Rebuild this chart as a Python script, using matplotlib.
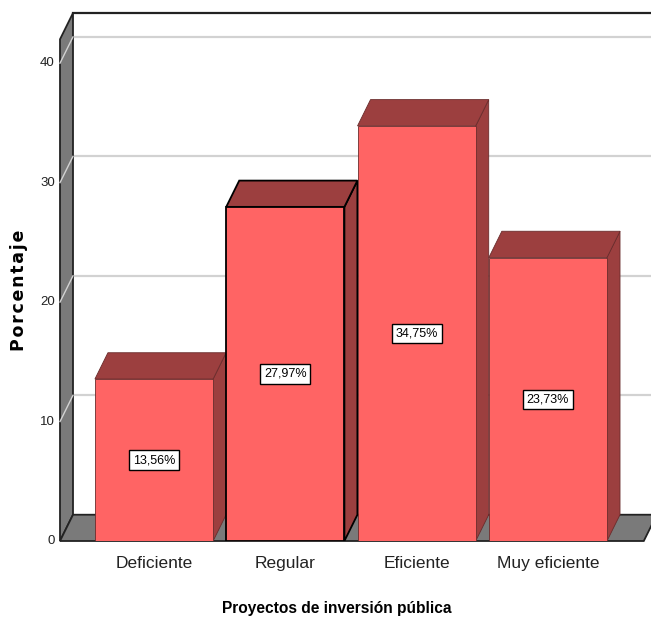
import matplotlib.pyplot as plt
from matplotlib.patches import Polygon

categories = ['Deficiente', 'Regular', 'Eficiente', 'Muy eficiente']
percentages = [13.56, 27.97, 34.75, 23.73]
y_ticks = [0, 10, 20, 30, 40]

FRONT = '#ff6464'
SHADE = '#9c3f3f'
WALL = '#7a7a7a'
GRID = '#d2d2d2'
EDGE = '#222222'

sans = ['Liberation Sans', 'DejaVu Sans']

# fake depth of the 3D box, in data units
dx = 0.099
dy = 2.2
y_top = 42.0
x_left = -0.716
x_right = 3.73
bar_w = 0.9

fig = plt.figure(figsize=(6.51, 6.24), dpi=100)
ax = fig.add_axes([60 / 651, 83 / 624, 591 / 651, 528 / 624])
ax.set_xlim(x_left, 3.785)
ax.set_ylim(0, y_top + dy)
ax.axis('off')

# back wall grid and frame
for v in y_ticks[1:]:
    ax.plot([x_left + dx, 4.2], [v + dy, v + dy], color=GRID, lw=1.6, zorder=1, clip_on=False)
ax.plot([x_left + dx, 4.2], [y_top + dy, y_top + dy], color=EDGE, lw=1.6, zorder=1, clip_on=False)

# left wall
ax.add_patch(Polygon([(x_left, 0), (x_left, y_top), (x_left + dx, y_top + dy), (x_left + dx, dy)],
                     closed=True, facecolor=WALL, edgecolor=EDGE, lw=1.3, zorder=2, clip_on=False))
for v in y_ticks[1:]:
    ax.plot([x_left, x_left + dx], [v, v + dy], color=GRID, lw=1.0, zorder=2, clip_on=False)

# floor
ax.add_patch(Polygon([(x_left, 0), (x_right, 0), (x_right + dx, dy), (x_left + dx, dy)],
                     closed=True, facecolor=WALL, edgecolor=EDGE, lw=1.3, zorder=2, clip_on=False))

# bars: right side, top, then front face
xs = list(range(len(categories)))
for i, v in zip(xs, percentages):
    x0 = i - bar_w / 2
    x1 = i + bar_w / 2
    ec = 'black' if i == 1 else '#6a2c2c'
    lw = 1.3 if i == 1 else 0.6
    ax.add_patch(Polygon([(x1, 0), (x1, v), (x1 + dx, v + dy), (x1 + dx, dy)],
                         closed=True, facecolor=SHADE, edgecolor=ec, lw=lw, zorder=3))
    ax.add_patch(Polygon([(x0, v), (x1, v), (x1 + dx, v + dy), (x0 + dx, v + dy)],
                         closed=True, facecolor=SHADE, edgecolor=ec, lw=lw, zorder=3))
    ax.bar(i, v, width=bar_w, color=FRONT, edgecolor=ec, lw=lw, zorder=4)
    ax.text(i, v / 2, f'{v:.2f}%'.replace('.', ','), ha='center', va='center',
            fontsize=9, family=sans, zorder=5,
            bbox=dict(boxstyle='square,pad=0.3', facecolor='white', edgecolor='black', lw=1))

# axis tick labels
for v in y_ticks:
    ax.text(x_left - 0.04, v, str(v), ha='right', va='center', fontsize=9.5, family=sans, color='#222222')
for i, name in zip(xs, categories):
    ax.text(i, -1.85, name, ha='center', va='center', fontsize=12.5, family=sans, color='#222222')

fig.text(337 / 651, 1 - 609 / 624, 'Proyectos de inversión pública', ha='center', va='center',
         fontsize=11.2, fontweight='bold', family=sans)
fig.text(19 / 651, 1 - 290 / 624, '\u200a'.join('Porcentaje'), ha='center', va='center', rotation=90,
         fontsize=12.5, fontweight='bold', family=['DejaVu Sans'])

fig.savefig('out.png', dpi=100)
